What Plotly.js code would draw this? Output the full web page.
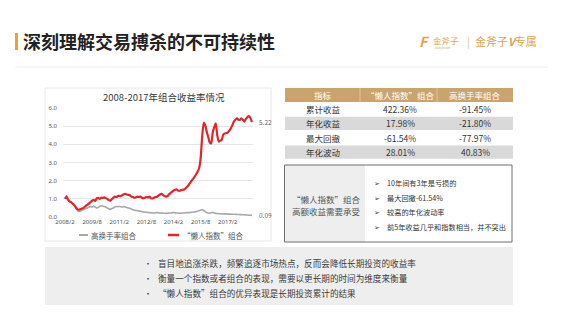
<!DOCTYPE html>
<html>
<head>
<meta charset="utf-8">
<script src="https://cdn.plot.ly/plotly-3.0.1.min.js"></script>
<style>
html,body{margin:0;padding:0;background:#ffffff;}
#chart{width:562px;height:335px;}
</style>
</head>
<body>
<div id="chart"></div>
<script>
// ---------- data ----------
const startYear = 2008, startMonth = 2;   // first observation: 2008/2, monthly
const lazyIndex = [1.00,1.12,0.95,0.86,0.82,0.74,0.66,0.55,0.45,0.40,0.42,0.46,0.49,0.55,0.62,0.68,0.75,0.82,0.90,0.94,
0.88,1.02,1.05,1.00,1.07,1.05,1.08,1.04,1.00,0.93,0.90,0.98,1.05,1.12,1.10,1.15,1.17,1.15,1.20,1.25,
1.27,1.24,1.22,1.20,1.12,1.10,1.06,1.08,1.12,1.10,1.12,1.06,1.03,1.06,1.10,1.08,1.12,1.03,1.02,1.06,
1.10,1.12,1.18,1.24,1.27,1.22,1.16,1.12,1.15,1.25,1.32,1.39,1.45,1.50,1.52,1.46,1.44,1.48,1.50,1.52,
1.58,1.66,1.76,1.88,2.00,2.10,2.22,2.35,2.50,2.70,3.25,4.45,5.19,5.05,4.70,4.40,4.10,4.05,4.65,4.95,
5.15,4.50,4.15,4.20,4.25,4.55,4.60,4.62,4.65,4.75,4.88,5.05,5.25,5.35,5.43,5.36,5.34,5.43,5.35,5.25,
5.40,5.50,5.56,5.45,5.22];
const highTurnover = [1.00,1.18,0.95,0.85,0.80,0.72,0.65,0.52,0.38,0.30,0.32,0.36,0.40,0.44,0.48,0.50,0.55,0.58,0.55,0.60,
0.55,0.50,0.52,0.58,0.62,0.60,0.58,0.55,0.50,0.45,0.42,0.46,0.50,0.55,0.58,0.57,0.58,0.56,0.55,0.57,
0.55,0.52,0.50,0.48,0.44,0.40,0.38,0.36,0.35,0.33,0.32,0.30,0.28,0.27,0.26,0.25,0.24,0.23,0.22,0.22,
0.23,0.24,0.23,0.22,0.22,0.21,0.21,0.20,0.21,0.22,0.22,0.23,0.24,0.23,0.22,0.22,0.21,0.21,0.22,0.22,
0.23,0.24,0.24,0.25,0.26,0.27,0.28,0.30,0.32,0.35,0.38,0.40,0.36,0.30,0.25,0.22,0.21,0.24,0.25,0.22,
0.20,0.19,0.18,0.18,0.17,0.17,0.17,0.17,0.16,0.16,0.16,0.15,0.15,0.15,0.14,0.14,0.13,0.13,0.12,0.12,
0.11,0.11,0.10,0.10,0.09];
const tickLabels = ["2008/2","2009/8","2011/2","2012/8","2014/2","2015/8","2017/2"];
const seriesNames = ["高换手率组合","“懒人指数”组合"];

const tableHeader = ["指标","“懒人指数”组合","高换手率组合"];
const metricNames = ["累计收益","年化收益","最大回撤","年化波动"];
const lazyMetrics = ["422.36%","17.98%","-61.54%","28.01%"];
const turnoverMetrics = ["-91.45%","-21.80%","-77.97%","40.83%"];

const boxTitle = ["“懒人指数”组合","高额收益需要承受"];
const boxPoints = ["10年间有3年是亏损的","最大回撤-61.54%","较高的年化波动率","前5年收益几乎和指数相当，并不突出"];
const summaryPoints = ["盲目地追涨杀跌，频繁追逐市场热点，反而会降低长期投资的收益率",
  "衡量一个指数或者组合的表现，需要以更长期的时间为维度来衡量",
  "“懒人指数”组合的优异表现是长期投资累计的结果"];

const pageTitle = "深刻理解交易搏杀的不可持续性";
const chartTitle = "2008-2017年组合收益率情况";

// ---------- helpers ----------
const W = 562, H = 335;
const PX = v => v / W;
const PY = v => 1 - v / H;
const FONT = "Noto Sans CJK SC, Noto Sans, sans-serif";

const dates = lazyIndex.map((_, i) => {
  const t = startYear * 12 + (startMonth - 1) + i;
  return Math.floor(t / 12) + "/" + (t % 12 + 1);
});
const idx = lazyIndex.map((_, i) => i);
const tickVals = tickLabels.map(l => dates.indexOf(l));
const last = lazyIndex.length - 1;

const traces = [
  {x: idx, y: highTurnover, type: "scatter", mode: "lines", name: seriesNames[0],
   text: dates, line: {color: "#a8a8a8", width: 1.6, shape: "spline", smoothing: 0.5},
   hoverinfo: "skip", showlegend: false},
  {x: idx, y: lazyIndex, type: "scatter", mode: "lines", name: seriesNames[1],
   text: dates, line: {color: "#e0262a", width: 2.2, shape: "spline", smoothing: 0.5},
   hoverinfo: "skip", showlegend: false}
];

const R = (x0, x1, y0, y1, fill, line, layer) => Object.assign({
  type: "rect", xref: "paper", yref: "paper", x0: PX(x0), x1: PX(x1), y0: PY(y1), y1: PY(y0),
  fillcolor: fill, line: line || {width: 0}}, layer ? {layer: layer} : {});
const L = (x0, x1, y0, y1, color, width) => ({
  type: "line", xref: "paper", yref: "paper", x0: PX(x0), x1: PX(x1), y0: PY(y0), y1: PY(y1),
  line: {color: color, width: width}});

const shapes = [
  R(15, 18, 33, 50, "#e9a23c"),
  L(15, 548, 67, 67, "#eeeeee", 1),
  R(45, 271, 88, 241, "#ffffff", {color: "#e8e8e8", width: 1}, "below"),
  L(79, 88, 235, 235, "#a8a8a8", 2),
  L(168, 179, 235, 235, "#e0262a", 2.5),
  R(284.5, 365, 165, 242, "#eeeeee"),
  R(284.5, 512, 165, 242, "rgba(0,0,0,0)", {color: "#6e6e6e", width: 1}),
  R(45, 513, 247, 305, "#eeeeee", null, "below")
];

const ann = [];
const A = (text, x, y, size, color, xanchor, extra) => ann.push(Object.assign({
  text: text, xref: "paper", yref: "paper", x: PX(x), y: PY(y), xanchor: xanchor || "left",
  yanchor: "middle", showarrow: false, font: {family: FONT, size: size, color: color}
}, extra || {}));

// ---------- table (drawn from the arrays) ----------
const tblX = [285, 360, 437, 513];
const colCenter = [323, 400, 475];
const headTop = 88, headH = 14, rowH = 14.3;
shapes.push(R(tblX[0], tblX[3], headTop, headTop + headH, "#c9a46c"));
shapes.push(L(tblX[1], tblX[1], headTop, headTop + headH, "#ddc49b", 1));
shapes.push(L(tblX[2], tblX[2], headTop, headTop + headH, "#ddc49b", 1));
tableHeader.forEach((h, c) => A(h, colCenter[c], headTop + headH / 2, 8.5, "#ffffff", "center"));
const cols = [metricNames, lazyMetrics, turnoverMetrics];
metricNames.forEach((_, r) => {
  const top = headTop + headH + r * rowH;
  if (r % 2 === 1) shapes.push(R(tblX[0], tblX[3], top + 0.5, top + rowH - 0.5, "#d9d9d9"));
  cols.forEach((col, c) => A(col[r], colCenter[c], top + rowH / 2, 8.5, "#333333", "center"));
});

// page header
A("<b>" + pageTitle + "</b>", 21, 41, 18, "#222222", "left");
A("<b><i>F</i></b>", 424, 41, 14, "#e0a44c", "center");
A("金斧子", 431, 40, 8.5, "#d9a55a", "left");
A("www.jfz.com", 443, 48, 2.5, "#d9a55a", "center");
A("|", 468, 41, 11, "#e2c08f", "center");
A("金斧子<b><i>V</i></b>专属", 473, 41, 11, "#d9a55a", "left");

// chart title and legend
A(chartTitle, 164, 97, 9.5, "#3a3a3a", "center");
A(seriesNames[0], 89, 235, 7.5, "#555555", "left");
A(seriesNames[1], 181, 235, 7.5, "#555555", "left");

// end labels (data-anchored)
[lazyIndex, highTurnover].forEach(s => ann.push({
  text: s[last].toFixed(2), xref: "x", yref: "y", x: last, y: s[last],
  xanchor: "left", yanchor: "middle", xshift: 5, showarrow: false,
  font: {family: FONT, size: 6.5, color: "#666666"}}));

// right note box text
A(boxTitle[0], 326, 199, 8.5, "#555555", "center");
A(boxTitle[1], 326, 211, 8.5, "#555555", "center");
const boxY = [183, 198, 212, 227];
boxPoints.forEach((t, i) => {
  A("➢", 377, boxY[i], 7, "#444444", "center");
  A(t, 385, boxY[i], 7.2, "#333333", "left");
});

// bottom summary text
const sumY = [263, 278, 293];
summaryPoints.forEach((t, i) => {
  A("•", 148, sumY[i], 8, "#333333", "center");
  A(t, 156, sumY[i], 8.6, "#3a3a3a", "left");
});

const layout = {
  width: W, height: H,
  margin: {l: 0, r: 0, t: 0, b: 0, pad: 0},
  paper_bgcolor: "#ffffff",
  plot_bgcolor: "rgba(0,0,0,0)",
  showlegend: false,
  font: {family: FONT},
  xaxis: {domain: [PX(63), PX(253)], range: [-1.33, 124.7], tickvals: tickVals, ticktext: tickLabels,
          showgrid: false, zeroline: false, showline: false, ticks: "",
          tickfont: {family: "Noto Sans, sans-serif", size: 6, color: "#555555"}, fixedrange: true},
  yaxis: {domain: [PY(217), PY(108)], range: [0, 6], dtick: 1, tickformat: ".1f",
          showgrid: true, gridcolor: "#e6e6e6", gridwidth: 1, zeroline: false, showline: false,
          ticks: "", ticklabelstandoff: 5,
          tickfont: {family: "Noto Sans, sans-serif", size: 6, color: "#555555"}, fixedrange: true},
  shapes: shapes,
  annotations: ann
};

Plotly.newPlot("chart", traces, layout, {displayModeBar: false, staticPlot: true});
</script>
</body>
</html>
